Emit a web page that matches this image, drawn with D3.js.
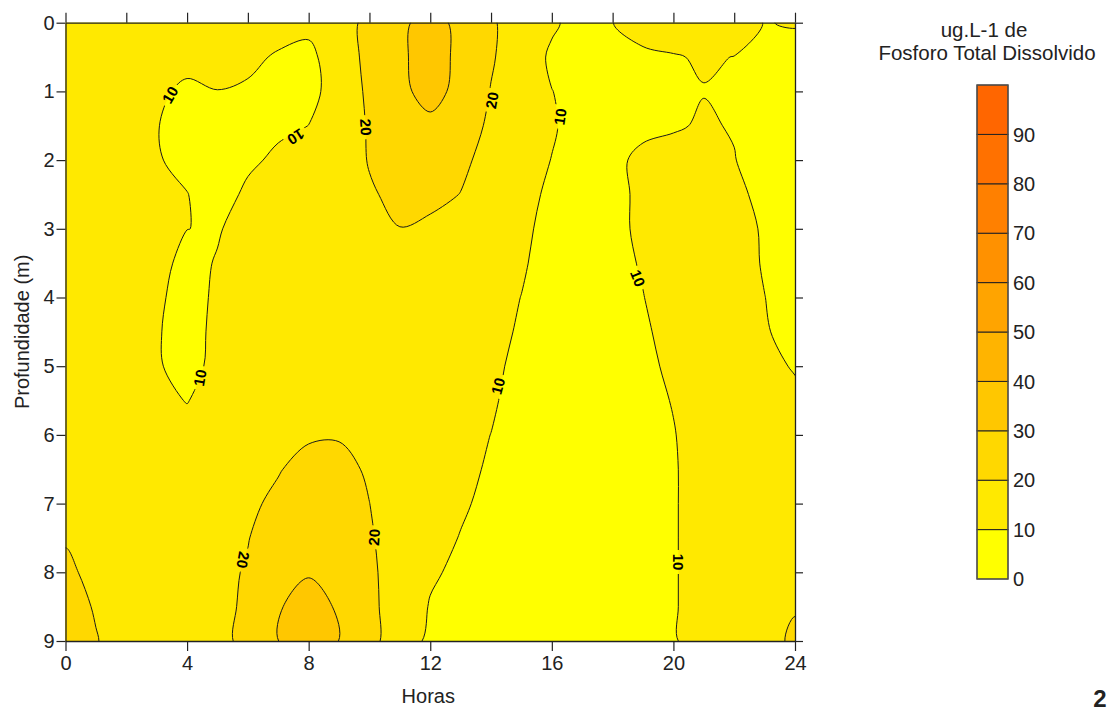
<!DOCTYPE html>
<html><head><meta charset="utf-8">
<script src="https://cdn.jsdelivr.net/npm/d3@7"></script>
<style>
body{margin:0;background:#fff}
text{font-family:"Liberation Sans",Arial,sans-serif;fill:#222}
</style>
</head><body>
<svg id="c" width="1120" height="713"></svg>
<script>
// ---- data ----
const hours  = [0,1,2,3,4,5,6,7,8,9,10,11,12,13,14,15,16,17,18,19,20,21,22,23,24];
const depths = [0,0.5,1,1.5,2,2.5,3,3.5,4,4.5,5,5.5,6,6.5,7,7.5,8,8.5,9];
// Fosforo total dissolvido (ug/L), one row per depth, one value per hour
const fosforo = [
 [15,15,15,15,14.5,14,13,12,11.5,17,21.8,28,33.7,27.5,21.8,12.8,11,7.4,9.9,13.2,13.5,14,13,9.8,10.4],
 [15,15,15,15,12.5,12,11,9.5,8.5,13.5,23.2,28.3,34.3,27.8,21,14.3,8.9,7,7,8.6,9.6,10.6,9.9,7.5,8],
 [15,15,14,11.5,8.5,9.9,9.4,8,8.5,12.25,22.2,28,33,27.5,19.6,14.5,10.1,8,8,8.5,9.3,9.8,9.6,8,7],
 [15,15,13,10.3,7,6.5,7,8.5,10.05,14,20.9,25,28,23.5,18.8,14,10.6,7.6,7.5,8.5,9.2,10.8,9.5,7.5,6.5],
 [15,15,13,10.6,7.9,7.5,8.5,11.5,13,16,20.4,24,25,21.5,17.55,12.5,9.87,8,8.5,11.5,13,13,10.3,6,5.5],
 [15,15,14,12,10.2,6.2,11.63,13.5,15,16.5,19.3,21.6,22,19.85,16.5,12,8.83,7,8,11.5,14,14,12,7.74,5],
 [15,15,14.5,12.5,10.08,9.3,13.4,15,16,17,18.5,19.9,18.5,17.5,15,11.5,7.75,6.5,8,11.5,14.5,14.5,13,9.15,5.5],
 [15,15,14.5,12.8,7.5,10.55,13,15,16,17,17.5,18.5,18,16.5,14,10.8,7.2,6,7.5,10.7,14.5,15,13.5,9.33,6],
 [15,15,14.5,11.1,7.5,11.07,13.5,15,16,16.5,17,17.5,17,15,12.5,9.9,7,6,7,9.8,13.8,15,14,10.1,6.5],
 [15,15,14,10.51,7.5,11.53,14,15,16,16.5,16.5,16.5,15.5,14,11.5,9.42,7,6,6.5,8.5,13.5,15,14.5,11,6],
 [15,15,14,10.56,8,11.64,14.5,15.5,16.5,17,16.5,16,15,13,11,8.78,7,6,6.5,8,11.64,14.5,15,13,9.1],
 [15,15,14.5,11.5,9.8,12.5,15,16,17,17.5,17,16,14.5,12.5,10.8,7.6,6.5,6,6.5,8,10.3,13.5,15,14.5,12.5],
 [15,15,15,14,12,14,16,17.5,19,19.5,18,15.5,14,12,9.94,7,6,6,6.5,7.5,9.7,13,15,15,14],
 [15,15.5,15.5,15,14.5,15.5,17,19.5,22.8,22,19.15,16,14,11.5,9.3,7,6,6,6.5,7.5,9.5,12.6,15,15.5,15],
 [17,16,15.5,15.5,15.5,16.5,18.5,21.7,24,23,20.05,16,13,10.7,8.7,6.5,6,6,6.5,7.5,9.5,12.6,15,16,16.5],
 [19.2,16.5,15.5,15.5,16,17.5,19.8,23,25,24,21,15.1,12,9.78,7.5,6.5,6,6,6.5,7.5,9.5,12.6,15,16.5,17.5],
 [22,17.24,16,16,16.5,18.5,20.5,25,29.5,27,21.5,16.14,11,8.5,7,6.5,6,6,6.5,7.5,9.5,12.6,15,17,18.5],
 [24,19.24,16.5,16,16.5,18.5,20.88,29.5,32.6,29.27,22,15.75,9.5,7.5,7,6.5,6,6,6.5,7.5,9.5,12.6,15,17.5,19.6],
 [25,20.5,15.5,16,16.5,18.5,21.4,29.95,34,29.92,22,16.3,7.67,7,7,6.5,6,6,6.5,7.5,9.5,12.6,15,18,21]
];
const levels = [0,10,20,30,40,50,60,70,80,90];
const levelColors = ["#ffff00","#ffe900","#ffd800","#ffc700","#ffb400","#ffa400","#ff9100","#ff8000","#ff7100","#ff6600"];
const xTickLabels = [0,4,8,12,16,20,24];
const xTopTicks = [0,2,4,6,8,10,12,14,16,18,20,22,24];
const yTicks = [0,1,2,3,4,5,6,7,8,9];
const barTicks = [0,10,20,30,40,50,60,70,80,90];
// contour labels: value, hour, depth, rotation
const contourLabels = [
 {t:"10", h:3.44, d:1.05, a:-60},
 {t:"10", h:7.58, d:1.66, a:148},
 {t:"20", h:9.88, d:1.52, a:87},
 {t:"20", h:14.03,d:1.13, a:-80},
 {t:"10", h:16.27,d:1.37, a:-82},
 {t:"10", h:18.83,d:3.72, a:68},
 {t:"10", h:4.42, d:5.17, a:-80},
 {t:"10", h:14.23,d:5.29, a:-75},
 {t:"20", h:5.84, d:7.82, a:100},
 {t:"20", h:10.15,d:7.49, a:-87},
 {t:"10", h:20.15,d:7.85, a:90}
];

// ---- drawing ----
const svg = d3.select("#c");
const x = d3.scaleLinear().domain([0,24]).range([65.5,795]);
const y = d3.scaleLinear().domain([0,9]).range([22.7,641]);
const defs = svg.append("defs");
defs.append("clipPath").attr("id","plotclip").append("rect")
  .attr("x",x(0)).attr("y",y(0)).attr("width",x(24)-x(0)).attr("height",y(9)-y(0));

const nx = hours.length, ny = depths.length;
const dh = hours[1]-hours[0], dd = depths[1]-depths[0];
const contours = d3.contours().size([nx,ny]).thresholds(levels)(fosforo.flat());
const px = c => x(hours[0] + (c-0.5)*dh);
const py = c => y(depths[0] + (c-0.5)*dd);
const ringLine = d3.line().x(p=>px(p[0])).y(p=>py(p[1])).curve(d3.curveCatmullRomClosed.alpha(0.5));
const pathOf = mp => mp.coordinates.map(poly => poly.map(r => ringLine(r.slice(0,-1))).join("")).join("");

const plot = svg.append("g").attr("clip-path","url(#plotclip)");
contours.forEach(c=>{
  if(!c.coordinates.length) return;
  plot.append("path").attr("d",pathOf(c)).attr("fill",levelColors[levels.indexOf(c.value)])
    .attr("fill-rule","evenodd").attr("stroke","none");
});

// mask for label gaps
const mask = defs.append("mask").attr("id","lblmask").attr("maskUnits","userSpaceOnUse")
  .attr("x",0).attr("y",0).attr("width",1120).attr("height",713);
mask.append("rect").attr("x",0).attr("y",0).attr("width",1120).attr("height",713).attr("fill","#fff");
mask.selectAll("rect.g").data(contourLabels).join("rect").attr("class","g")
  .attr("x",-12).attr("y",-7).attr("width",24).attr("height",14).attr("fill","#000")
  .attr("transform",d=>`translate(${x(d.h)},${y(d.d)}) rotate(${d.a})`);

const lines = plot.append("g").attr("mask","url(#lblmask)");
contours.forEach(c=>{
  if(c.value===0 || !c.coordinates.length) return;
  lines.append("path").attr("d",pathOf(c)).attr("fill","none").attr("stroke","#1a1a1a").attr("stroke-width",1);
});

svg.append("g").selectAll("text").data(contourLabels).join("text")
  .attr("transform",d=>`translate(${x(d.h)},${y(d.d)}) rotate(${d.a})`)
  .attr("text-anchor","middle").attr("dy","0.36em")
  .style("font-size","15px").style("font-weight","bold").style("fill","#000")
  .text(d=>d.t);

// axes
function styleAxis(g){
  g.selectAll("path.domain").attr("stroke","#222").attr("stroke-width",1.3);
  g.selectAll(".tick line").attr("stroke","#222").attr("stroke-width",1.2);
  g.selectAll(".tick text").style("font-size","20px").style("font-family","'Liberation Sans',Arial,sans-serif").attr("fill","#333");
}
svg.append("g").attr("transform",`translate(0,${y(9)})`)
  .call(d3.axisBottom(x).tickValues(xTickLabels).tickSize(10).tickSizeOuter(0).tickPadding(5).tickFormat(d3.format("d")))
  .call(styleAxis);
svg.append("g").attr("transform",`translate(0,${y(0)})`)
  .call(d3.axisTop(x).tickValues(xTopTicks).tickSize(10).tickSizeOuter(0).tickFormat(""))
  .call(styleAxis);
svg.append("g").attr("transform",`translate(${x(0)},0)`)
  .call(d3.axisLeft(y).tickValues(yTicks).tickSize(9).tickSizeOuter(0).tickPadding(2).tickFormat(d3.format("d")))
  .call(styleAxis);
svg.append("g").attr("transform",`translate(${x(24)},0)`)
  .call(d3.axisRight(y).tickValues(yTicks).tickSize(8).tickSizeOuter(0).tickFormat(""))
  .call(styleAxis);

svg.append("text").attr("x",(x(0)+x(24))/2 - 2).attr("y",703).attr("text-anchor","middle")
  .style("font-size","20px").attr("fill","#333").text("Horas");
svg.append("text").attr("transform",`translate(29,${(y(0)+y(9))/2}) rotate(-90)`).attr("text-anchor","middle")
  .style("font-size","20px").attr("fill","#333").text("Profundidade (m)");

// colour bar
const cb = d3.scaleLinear().domain([0,100]).range([579,85]);
const bar = svg.append("g");
bar.selectAll("rect").data(levels).join("rect")
  .attr("x",977).attr("width",31)
  .attr("y",d=>cb(d+10)).attr("height",d=>cb(d)-cb(d+10))
  .attr("fill",(d,i)=>levelColors[i]).attr("stroke","#222").attr("stroke-width",1);
bar.append("rect").attr("x",977).attr("y",cb(100)).attr("width",31).attr("height",cb(0)-cb(100))
  .attr("fill","none").attr("stroke","#555").attr("stroke-width",1.2);
bar.selectAll("text").data(barTicks).join("text")
  .attr("x",1013).attr("y",d=>cb(d)).attr("dy","0.36em")
  .style("font-size","20px").attr("fill","#333").text(d=>d);

svg.append("text").attr("x",984).attr("y",37).attr("text-anchor","middle")
  .style("font-size","20.5px").attr("fill","#333").text("ug.L-1 de");
svg.append("text").attr("x",987).attr("y",60).attr("text-anchor","middle")
  .style("font-size","20.5px").attr("fill","#333").text("Fosforo Total Dissolvido");

svg.append("text").attr("x",1100).attr("y",707).attr("text-anchor","middle")
  .style("font-size","24px").style("font-weight","bold").attr("fill","#000").text("2");
</script>
</body></html>
